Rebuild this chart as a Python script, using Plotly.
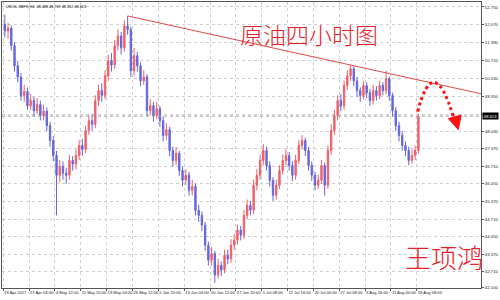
import plotly.graph_objects as go

# ---------------- data (USOIL H4, each candle = 4 H4 bars) ----------------
opens = [52.10, 51.84, 51.95, 51.28, 50.52, 50.10, 49.39, 49.55, 49.01, 49.20,
         48.82, 49.05, 48.63, 48.80, 48.25, 47.69, 47.12, 46.37, 46.70, 46.45,
         46.37, 46.93, 46.80, 47.12, 47.50, 47.35, 48.07, 48.44, 48.30, 49.20,
         49.58, 49.40, 50.14, 50.71, 50.55, 51.28, 51.65, 51.20, 52.03, 51.90,
         50.33, 50.90, 50.52, 49.95, 50.10, 48.82, 49.01, 48.63, 48.90, 48.44,
         47.88, 48.10, 47.31, 46.93, 47.20, 46.55, 46.18, 46.37, 45.80, 45.95,
         45.04, 44.85, 44.48, 43.72, 43.15, 43.40, 42.59, 42.96, 42.78, 43.34,
         43.20, 43.72, 43.91, 44.29, 44.10, 44.85, 45.23, 45.05, 45.99, 46.37,
         46.93, 47.31, 46.74, 46.18, 45.61, 45.99, 46.55, 46.93, 47.12, 46.74,
         46.37, 46.93, 47.50, 47.69, 47.31, 46.74, 46.37, 45.99, 46.18, 46.74,
         45.99, 47.31, 48.07, 48.63, 49.20, 49.00, 49.77, 50.14, 50.41, 49.95,
         49.58, 49.39, 49.77, 49.50, 49.20, 49.58, 49.39, 49.77, 49.58, 50.03,
         49.39, 48.82, 48.25, 47.88, 47.50, 47.31, 46.93, 47.12, 47.31]
closes = [51.84, 51.95, 51.28, 50.52, 50.10, 49.39, 49.55, 49.01, 49.20, 48.82,
          49.05, 48.63, 48.80, 48.25, 47.69, 47.12, 46.37, 46.70, 46.45, 46.37,
          46.93, 46.80, 47.12, 47.50, 47.35, 48.07, 48.44, 48.30, 49.20, 49.58,
          49.40, 50.14, 50.71, 50.55, 51.28, 51.65, 51.20, 52.03, 51.90, 50.33,
          50.90, 50.52, 49.95, 50.10, 48.82, 49.01, 48.63, 48.90, 48.44, 47.88,
          48.10, 47.31, 46.93, 47.20, 46.55, 46.18, 46.37, 45.80, 45.95, 45.04,
          44.85, 44.48, 43.72, 43.15, 43.40, 42.59, 42.96, 42.78, 43.34, 43.20,
          43.72, 43.91, 44.29, 44.10, 44.85, 45.23, 45.05, 45.99, 46.37, 46.93,
          47.31, 46.74, 46.18, 45.61, 45.99, 46.55, 46.93, 47.12, 46.74, 46.37,
          46.93, 47.50, 47.69, 47.31, 46.74, 46.37, 45.99, 46.18, 46.74, 45.99,
          47.31, 48.07, 48.63, 49.20, 49.00, 49.77, 50.14, 50.41, 49.95, 49.58,
          49.39, 49.77, 49.50, 49.20, 49.58, 49.39, 49.77, 49.58, 50.03, 49.39,
          48.82, 48.25, 47.88, 47.50, 47.31, 46.93, 47.12, 47.31, 48.61]
highs = [52.45, 52.15, 52.05, 51.40, 50.70, 50.25, 49.80, 49.70, 49.45, 49.35,
         49.30, 49.20, 49.05, 48.95, 48.40, 47.85, 47.30, 46.95, 46.90, 46.65,
         47.15, 47.10, 47.35, 47.70, 47.75, 48.25, 48.65, 48.70, 49.40, 49.80,
         49.85, 50.35, 50.95, 51.00, 51.50, 51.90, 51.80, 52.25, 52.41, 52.00,
         51.20, 51.05, 50.65, 50.35, 50.20, 49.25, 49.15, 49.15, 49.00, 48.60,
         48.35, 48.20, 47.45, 47.45, 47.30, 46.70, 46.60, 46.50, 46.20, 46.05,
         45.25, 45.00, 44.60, 43.85, 43.65, 43.50, 43.20, 43.10, 43.55, 43.55,
         43.95, 44.15, 44.50, 44.45, 45.05, 45.45, 45.40, 46.20, 46.60, 47.15,
         47.55, 47.45, 46.90, 46.30, 46.20, 46.75, 47.15, 47.35, 47.25, 46.90,
         47.15, 47.70, 47.90, 47.80, 47.45, 46.90, 46.50, 46.40, 46.95, 46.85,
         47.50, 48.30, 48.85, 49.40, 49.45, 49.95, 50.35, 50.56, 50.50, 50.10,
         49.70, 49.95, 49.90, 49.65, 49.80, 49.75, 49.95, 49.90, 50.33, 50.10,
         49.50, 48.95, 48.40, 48.05, 47.65, 47.45, 47.35, 47.50, 48.71]
lows = [51.60, 51.55, 51.10, 50.30, 49.90, 49.20, 49.15, 48.85, 48.85, 48.60,
        48.70, 48.45, 48.45, 48.05, 47.45, 46.90, 44.85, 46.10, 46.20, 46.05,
        46.20, 46.55, 46.60, 46.95, 47.10, 47.20, 47.90, 48.05, 48.15, 49.00,
        49.15, 49.25, 49.95, 50.30, 50.40, 51.10, 50.95, 51.05, 51.70, 50.10,
        50.15, 50.30, 49.75, 49.80, 48.60, 48.65, 48.40, 48.50, 48.20, 47.65,
        47.70, 47.10, 46.70, 46.75, 46.35, 45.95, 46.00, 45.60, 45.60, 44.85,
        44.60, 44.25, 43.50, 42.95, 42.95, 42.29, 42.45, 42.55, 42.65, 43.00,
        43.05, 43.55, 43.75, 43.90, 43.95, 44.70, 44.85, 44.90, 45.80, 46.20,
        46.75, 46.55, 45.95, 45.40, 45.45, 45.85, 46.40, 46.75, 46.55, 46.15,
        46.20, 46.80, 47.35, 47.10, 46.55, 46.15, 45.80, 45.85, 46.05, 45.60,
        45.85, 47.15, 47.90, 48.45, 48.80, 48.85, 49.60, 49.95, 49.75, 49.35,
        49.15, 49.25, 49.30, 49.00, 49.05, 49.20, 49.25, 49.40, 49.45, 49.20,
        48.60, 48.05, 47.65, 47.30, 47.10, 46.75, 46.80, 46.95, 47.20]
bars = list(range(2, 2 + 4 * len(closes), 4))   # H4 bar number of each candle

x_tick_bars = [0, 32, 64, 96, 128, 160, 192, 224, 256, 288, 320, 352, 384, 416, 448, 480, 512]
x_tick_labels = ["19 Apr 2017", "27 Apr 04:00", "4 May 12:00", "11 May 20:00", "19 May 04:00",
                 "26 May 12:00", "5 Jun 20:00", "13 Jun 04:00", "20 Jun 12:00", "27 Jun 20:00",
                 "5 Jul 08:00", "12 Jul 16:00", "20 Jul 00:00", "27 Jul 08:00", "3 Aug 16:00",
                 "11 Aug 00:00", "18 Aug 08:00"]
y_tick_vals = [52.750, 52.070, 51.390, 50.710, 50.030, 49.350, 48.670, 48.030, 47.370,
               46.710, 46.050, 45.370, 44.710, 44.050, 43.370, 42.710, 42.100]
y_tick_text = ["52.750", "52.070", "51.390", "50.710", "50.030", "49.350", "", "48.030", "47.370",
               "46.710", "46.050", "45.370", "44.710", "44.050", "43.370", "42.710", "42.100"]
last_price = 48.613
header = "USOIL,SBFX,H4  48.488 48.709 48.352 48.613"
title_text = "原油四小时图"
author_text = "王项鸿"

# trendline anchors: peak of 25 May and its projection to the right edge
trend_start = (bars[38], highs[38])
trend_end_price = 49.46

UP = "#f0606a"
DOWN = "#6466dc"

fig = go.Figure()
fig.add_trace(go.Candlestick(
    x=bars, open=opens, high=highs, low=lows, close=closes,
    increasing=dict(line=dict(color=UP, width=1), fillcolor=UP),
    decreasing=dict(line=dict(color=DOWN, width=1), fillcolor=DOWN),
    whiskerwidth=0, showlegend=False, hoverinfo="skip"))

XR = [-1.5, 591.5]
YR = [42.096, 52.939]

# helpers for decorative drawing in plot pixels -> paper coords
PW, PH = 484.0, 287.0
def px(x):
    return (x - 1) / PW
def py(y):
    return (288 - y) / PH

shapes = [
    dict(type="line", xref="x", yref="y", x0=trend_start[0], y0=trend_start[1],
         x1=XR[1], y1=trend_end_price, line=dict(color="#e04848", width=1)),
    dict(type="line", xref="paper", yref="y", x0=0, x1=1, y0=last_price, y1=last_price,
         line=dict(color="#9a9a9a", width=1, dash="dot")),
    dict(type="path", xref="paper", yref="paper",
         path=f"M {px(421)},{py(111)} Q {px(437)},{py(50)} {px(457)},{py(116)}",
         line=dict(color="#ff1010", width=3, dash="dot")),
    dict(type="path", xref="paper", yref="paper",
         path=f"M {px(452)},{py(118)} L {px(465)},{py(114.5)} L {px(462)},{py(129)} Z",
         fillcolor="#ff1010", line=dict(color="#ff1010", width=1)),
]

annotations = [
    dict(text=header, xref="paper", yref="paper", x=px(3), y=py(2.5), xanchor="left", yanchor="top",
         showarrow=False, font=dict(size=3.8, color="#000", family="Liberation Sans")),
    dict(text=title_text, xref="paper", yref="paper", x=px(311), y=py(33), xanchor="center",
         yanchor="middle", showarrow=False,
         font=dict(size=23, color="#e8202a", family="Noto Sans CJK SC", weight=300)),
    dict(text=author_text, xref="paper", yref="paper", x=px(448), y=py(256), xanchor="center",
         yanchor="middle", showarrow=False,
         font=dict(size=26, color="#e8202a", family="Noto Sans CJK SC", weight=300)),
    dict(text=f"{last_price:.3f}", xref="paper", yref="y", x=1.0, y=last_price, xanchor="left",
         yanchor="middle", showarrow=False, bgcolor="#000", borderpad=0.5, xshift=1,
         font=dict(size=4.3, color="#fff", family="Liberation Sans")),
]

fig.update_layout(
    width=500, height=300,
    margin=dict(l=1, r=15, t=1, b=12),
    paper_bgcolor="white", plot_bgcolor="white",
    boxgap=0.4,
    shapes=shapes, annotations=annotations,
    xaxis=dict(range=XR, tickmode="array", tickvals=x_tick_bars, ticktext=x_tick_labels,
               ticklabelposition="outside right", tickangle=0, ticks="outside", ticklen=2,
               tickcolor="#555",
               tickfont=dict(size=4.1, color="#222", family="Liberation Sans"),
               showgrid=True, gridcolor="#cfcfcf", griddash="dot", gridwidth=1,
               showline=True, linecolor="#555", linewidth=1, mirror=True,
               zeroline=False, rangeslider=dict(visible=False), fixedrange=True),
    yaxis=dict(range=YR, side="right", tickmode="array", tickvals=y_tick_vals, ticktext=y_tick_text,
               ticks="outside", ticklen=2, tickcolor="#555",
               tickfont=dict(size=4.3, color="#222", family="Liberation Sans"),
               showgrid=True, gridcolor="#cfcfcf", griddash="dot", gridwidth=1,
               showline=True, linecolor="#555", linewidth=1, mirror=True,
               zeroline=False, fixedrange=True),
)

fig.write_html("out.html")
